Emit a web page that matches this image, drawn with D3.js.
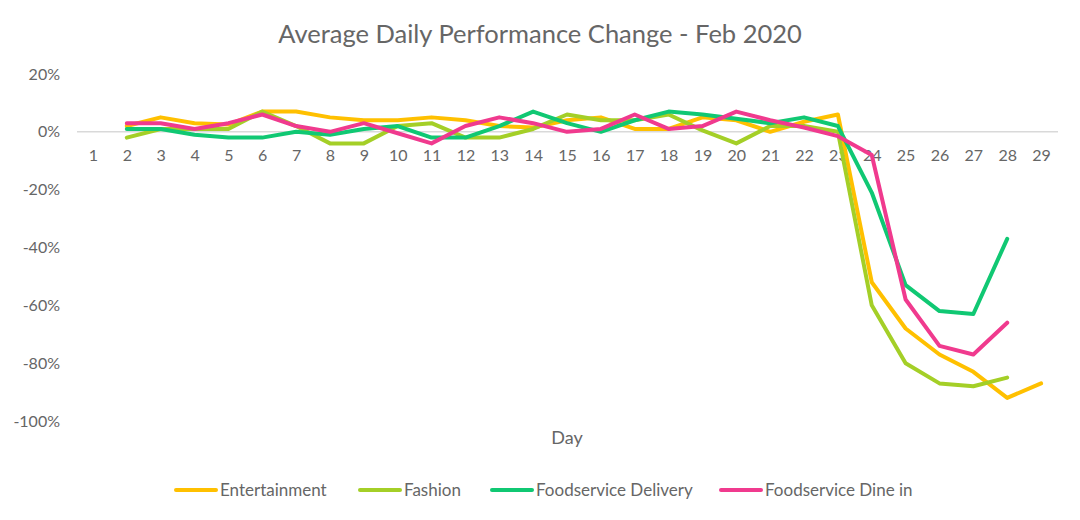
<!DOCTYPE html>
<html>
<head>
<meta charset="utf-8">
<script src="https://cdn.jsdelivr.net/npm/d3@7"></script>
<style>
  body { margin: 0; background: #fff; }
  svg text { font-family: Lato, "Open Sans", sans-serif; fill: #666; }
</style>
</head>
<body>
<svg id="chart" width="1080" height="520"></svg>
<script>
const days = d3.range(1, 30).map(String);
const yTicks = [20, 0, -20, -40, -60, -80, -100];
const seriesNames = ["Entertainment", "Fashion", "Foodservice Delivery", "Foodservice Dine in"];
const seriesColors = ["#FFC000", "#A4CF27", "#10C873", "#F03A8E"];

// values in %, index 0 = day 1 (null = no data)
const entertainment = [null, 2, 5, 3, 2.5, 7, 7, 5, 4, 4, 5, 4, 2, 1.5, 4, 5, 1, 1, 5, 4, 0, 3.5, 6, -52, -68, -77, -83, -92, -87];
const fashion = [null, -2, 1, 1, 1, 7, 2, -4, -4, 2, 3, -2, -2, 1, 6, 4, 4, 6, 0.5, -4, 2, 2, 0, -60, -80, -87, -88, -85, null];
const delivery = [null, 1, 1, -1, -2, -2, 0, -1, 1, 2, -2, -2, 2, 7, 3, 0, 4, 7, 6, 4.5, 3, 5, 2, -21, -53, -62, -63, -37, null];
const dineIn = [null, 3, 3, 1, 3, 6, 2, 0, 3, -0.5, -4, 2, 5, 3, 0, 1, 6, 1, 2, 7, 4, 1.5, -1.5, -8, -58, -74, -77, -66, null];
const allSeries = [entertainment, fashion, delivery, dineIn];

const svg = d3.select("#chart");

const x = d3.scalePoint().domain(days).range([76, 1058]).padding(0.5);
const y = d3.scaleLinear().domain([-100, 20]).range([421, 74]);

// title
svg.append("text")
  .attr("x", 540).attr("y", 43)
  .attr("text-anchor", "middle")
  .style("font-size", "25.5px")
  .text("Average Daily Performance Change - Feb 2020");

// y axis labels
const yAxis = d3.axisLeft(y).tickValues(yTicks).tickSize(0).tickPadding(0)
  .tickFormat(d => d + "%");
const yg = svg.append("g").attr("transform", "translate(60,0)").call(yAxis);
yg.select(".domain").remove();
yg.selectAll("text").style("font-size", "16px").attr("fill", "#666");

// zero line
svg.append("line")
  .attr("x1", 77).attr("x2", 1058)
  .attr("y1", y(0)).attr("y2", y(0))
  .attr("stroke", "#d9d9d9").attr("stroke-width", 1.5);

// x axis labels
const xAxis = d3.axisBottom(x).tickSize(0).tickPadding(18);
const xg = svg.append("g").attr("transform", `translate(0,${y(0)})`).call(xAxis);
xg.select(".domain").remove();
xg.selectAll("text").style("font-size", "16px").attr("fill", "#666");

// axis title
svg.append("text")
  .attr("x", 567).attr("y", 444)
  .attr("text-anchor", "middle")
  .style("font-size", "18px")
  .text("Day");

// lines
const line = d3.line()
  .defined(d => d.v !== null)
  .x(d => x(d.day))
  .y(d => y(d.v));

allSeries.forEach((vals, i) => {
  const data = vals.map((v, j) => ({ day: days[j], v }));
  svg.append("path")
    .datum(data)
    .attr("d", line)
    .attr("fill", "none")
    .attr("stroke", seriesColors[i])
    .attr("stroke-width", 4)
    .attr("stroke-linejoin", "round")
    .attr("stroke-linecap", "round");
});

// legend
const legendX = [176, 360, 492, 721];
const lg = svg.append("g").attr("transform", "translate(0,490)");
seriesNames.forEach((name, i) => {
  lg.append("line")
    .attr("x1", legendX[i]).attr("x2", legendX[i] + 40)
    .attr("y1", 0).attr("y2", 0)
    .attr("stroke", seriesColors[i]).attr("stroke-width", 4)
    .attr("stroke-linecap", "round");
  lg.append("text")
    .attr("x", legendX[i] + 44).attr("y", 6)
    .style("font-size", "17px")
    .text(name);
});
</script>
</body>
</html>
